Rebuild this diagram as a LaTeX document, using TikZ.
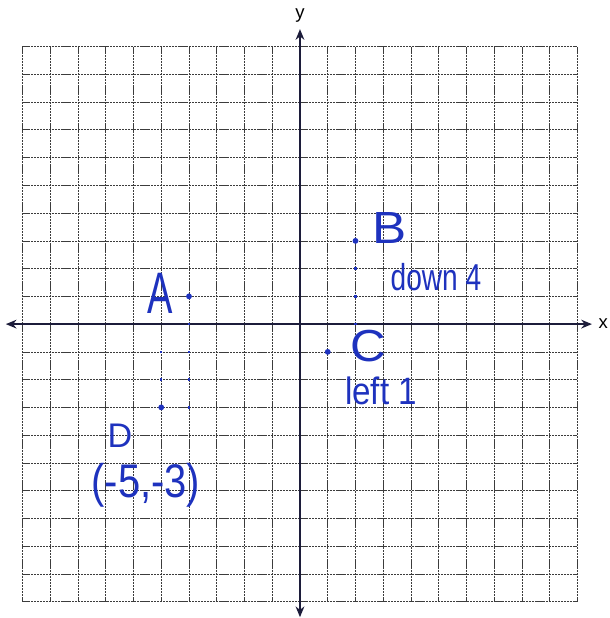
\documentclass[tikz,border=0pt]{standalone}
\usepackage{fontspec}
\usepackage{graphicx}
\setmainfont{Liberation Sans}
\usetikzlibrary{arrows.meta}
\definecolor{ink}{RGB}{30,50,190}
\definecolor{axiscol}{RGB}{28,28,58}
\definecolor{gridcol}{RGB}{60,60,60}
\newcommand{\hw}[4]{\fontsize{#2}{#2}\selectfont\scalebox{#1}[#4]{#3}}
\begin{document}
\begin{tikzpicture}[x=1cm,y=1cm,
  gridline/.style={draw=gridcol, line width=0.75pt, dash pattern=on 2.2pt off 0.8pt},
  axisline/.style={draw=axiscol, line width=1.6pt, {Stealth[length=11pt,width=9pt]}-{Stealth[length=11pt,width=9pt]}},
  axlabel/.style={text=black, inner sep=0pt, font=\fontsize{19}{19}\selectfont},
  hand/.style={text=ink, inner sep=0pt},
  pt/.style={circle, fill=ink, draw=none, minimum size=6pt, inner sep=0pt},
  dotline/.style={draw=ink, line width=2.6pt, line cap=butt, dash pattern=on 2.6pt off 25.8528pt, dash phase=1.3pt}
]
\useasboundingbox (-10.81,-10.59) rectangle (11.17,11.68);
% grid
\draw[gridline] (-10,-10) grid (10,10);
% axes
\coordinate (xl0) at (-10.6,0);
\coordinate (xr0) at (10.52,0);
\coordinate (yb0) at (0,-10.56);
\coordinate (yt0) at (0,10.63);
\draw[axisline] (xl0) -- (xr0);
\draw[axisline] (yb0) -- (yt0);
\node[axlabel] (xlab) at (10.93,0.02) {x};
\node[axlabel] (ylab) at (0.0,11.12) {y};
% points
\node[pt] (A) at (-4,1) {};
\node[pt] (B) at (2,3) {};
\node[pt] (C) at (1,-1) {};
\node[pt] (D) at (-5,-3) {};
% dotted helper lines
\coordinate (Bdown) at (2,-0.05);
\coordinate (Adown) at (-4,-3.05);
\coordinate (Dup) at (-5,-0.95);
\draw[dotline] (B.center) -- (Bdown);
\draw[dotline] (A.center) -- (Adown);
\draw[dotline] (D.center) -- (Dup);
% handwritten labels
\node[hand] (Alab) at (-5.05,1.12) {\hw{0.65}{60}{A}{1}};
\node[hand] (Blab) at (3.24,3.46) {\hw{1.25}{42}{B}{1.1}};
\node[hand] (Clab) at (2.45,-0.79) {\hw{1.1}{46}{C}{1}};
\node[hand] (Dlab) at (-6.49,-4.04) {\hw{1.0}{35}{D}{1}};
\node[hand] (down) at (4.9,1.69) {\hw{0.9}{32}{down 4}{1.2}};
\node[hand] (left) at (2.92,-2.41) {\hw{1.0}{34}{left 1}{1.15}};
\node[hand] (Dco) at (-5.55,-5.8) {\hw{0.93}{44}{(-5,-3)}{1.1}};
\end{tikzpicture}
\end{document}
